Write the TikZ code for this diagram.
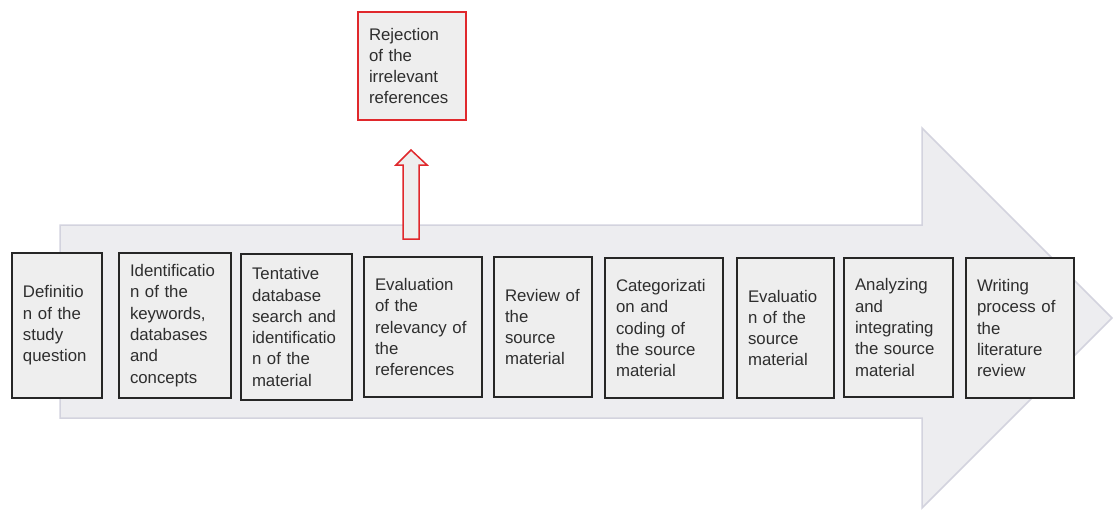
\documentclass[tikz,border=0pt]{standalone}
\usepackage{fontspec}
\setmainfont{Liberation Sans}
\usepackage{tikz}

\definecolor{boxfill}{HTML}{EEEEEE}
\definecolor{flowfill}{HTML}{EDEDF0}
\definecolor{flowline}{HTML}{D3D3DE}
\definecolor{rejred}{HTML}{E0282C}
\definecolor{txt}{HTML}{2E2E2E}

\begin{document}
\begin{tikzpicture}[
    x=1pt, y=-1pt,
    every node/.style={font=\fontsize{16.8}{21.3}\selectfont, text=txt},
    stepbox/.style 2 args={draw=black!85, line width=1.8pt, fill=boxfill,
        inner xsep=11pt, inner ysep=0pt, align=left,
        text width=#1, minimum height=#2},
    rejbox/.style={stepbox={86pt}{108pt}, draw=rejred}
]
\useasboundingbox (0,0) rectangle (1113,511);

% big process arrow in the background
\draw[flowline, fill=flowfill, line width=1.5pt]
    (60,225) -- (922,225) -- (922,128) -- (1112,318)
    -- (922,508) -- (922,418) -- (60,418) -- cycle;

\node[stepbox={68pt}{145pt}] (s1) at (57,325.5) {Definitio\\n of the\\study\\question};
\node[stepbox={90pt}{145pt}] (s2) at (175,325.5) {Identificatio\\n of the\\keywords,\\databases\\and\\concepts};
\node[stepbox={89pt}{146pt}] (s3) at (296.5,327) {Tentative\\database\\search and\\identificatio\\n of the\\material};
\node[stepbox={96pt}{140pt}] (s4) at (423,327) {Evaluation\\of the\\relevancy of\\the\\references};
\node[stepbox={76pt}{140pt}] (s5) at (543,327) {Review of\\the\\source\\material};
\node[stepbox={96pt}{140pt}] (s6) at (664,328) {Categorizati\\on and\\coding of\\the source\\material};
\node[stepbox={75pt}{140pt}] (s7) at (785.5,328) {Evaluatio\\n of the\\source\\material};
\node[stepbox={87pt}{139pt}] (s8) at (898.5,327.5) {Analyzing\\and\\integrating\\the source\\material};
\node[stepbox={86pt}{140pt}] (s9) at (1020,328) {Writing\\process of\\the\\literature\\review};

\node[rejbox] (rej) at (412,66) {Rejection\\of the\\irrelevant\\references};

% hollow arrow towards the rejected references
\draw[rejred, fill=boxfill, line width=1.5pt]
    (403,239) -- (403,165) -- (396,165) -- (411,150) -- (427,165)
    -- (419,165) -- (419,239) -- cycle;
\end{tikzpicture}
\end{document}
